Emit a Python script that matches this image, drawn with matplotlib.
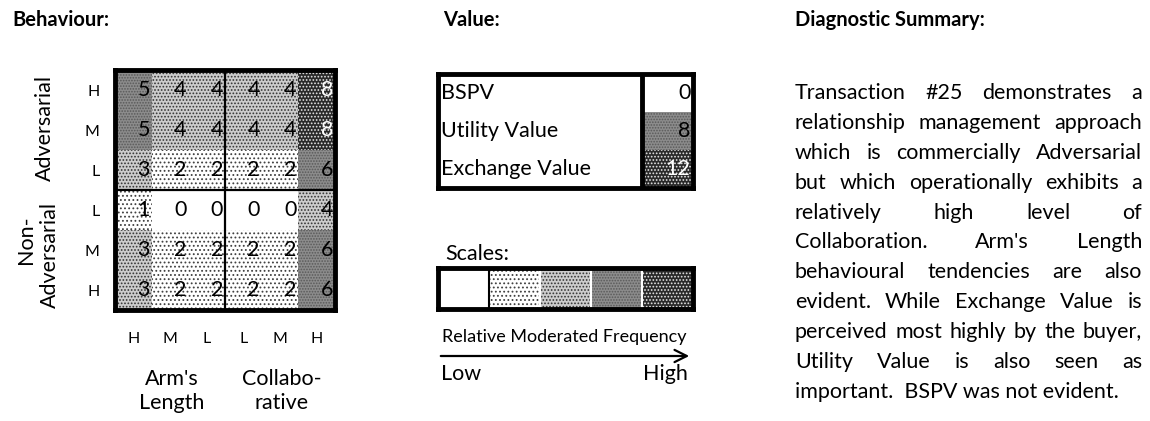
import math
import matplotlib
matplotlib.use("Agg")
import matplotlib.pyplot as plt
from matplotlib.patches import Rectangle
import numpy as np

plt.rcParams['font.family'] = ['Lato', 'DejaVu Sans']
plt.rcParams['hatch.linewidth'] = 0.8

W, H = 1150, 421

# behaviour matrix (rows top to bottom, columns left to right)
row_labels = ["H", "M", "L", "L", "M", "H"]
col_labels = ["H", "M", "L", "L", "M", "H"]
col_groups = ["Arm's\nLength", "Collabo-\nrative"]
behaviour = [
    [5, 4, 4, 4, 4, 8],
    [5, 4, 4, 4, 4, 8],
    [3, 2, 2, 2, 2, 6],
    [1, 0, 0, 0, 0, 4],
    [3, 2, 2, 2, 2, 6],
    [3, 2, 2, 2, 2, 6],
]

value_names = ["BSPV", "Utility Value", "Exchange Value"]
value_scores = [0, 8, 12]

summary_lines = [
    "Transaction #25 demonstrates a",
    "relationship management approach",
    "which is commercially Adversarial",
    "but which operationally exhibits a",
    "relatively high level of",
    "Collaboration.  Arm's Length",
    "behavioural tendencies are also",
    "evident.  While Exchange Value is",
    "perceived most highly by the buyer,",
    "Utility Value is also seen as",
    "important.  BSPV was not evident.",
]

# five shading steps, white -> darkest
SHADES = [
    dict(face="white", hatch=None, ink="white"),
    dict(face="white", hatch="....", ink="0.25"),
    dict(face="0.80", hatch=".....", ink="0.2"),
    dict(face="0.55", hatch="......", ink="0.35"),
    dict(face="0.16", hatch=".....", ink="0.9"),
]


def level(v, vmax):
    return min(4, math.ceil(4 * v / vmax))


def px_axes(x0, y0, x1, y1):
    return fig.add_axes([x0 / W, 1 - y1 / H, (x1 - x0) / W, (y1 - y0) / H])


def cell(ax, x, y, lev, w=1, h=1):
    s = SHADES[lev]
    ax.add_patch(Rectangle((x, y), w, h, facecolor=s["face"], edgecolor=s["ink"],
                           hatch=s["hatch"], linewidth=0))


def frame(ax, lw=3.5):
    for sp in ax.spines.values():
        sp.set_linewidth(lw)
        sp.set_color("black")


fig = plt.figure(figsize=(W / 100, H / 100), dpi=100)

# overlay for free text, pixel coordinates
ov = fig.add_axes([0, 0, 1, 1])
ov.set_xlim(0, W)
ov.set_ylim(H, 0)
ov.axis("off")

FS = 15.5

# ---- behaviour heat map
hm = px_axes(115, 70, 335, 310)
vmax = max(max(r) for r in behaviour)
for i, row in enumerate(behaviour):
    for j, v in enumerate(row):
        lev = level(v, vmax)
        cell(hm, j, i, lev)
        hm.text(j + 0.95, i + 0.5, str(v), ha="right", va="center", fontsize=15.5,
                color="white" if lev == 4 else "black")
hm.set_xlim(0, 6)
hm.set_ylim(6, 0)
hm.axvline(3, color="black", lw=1.6)
hm.axhline(3, color="black", lw=1.6)
frame(hm)
hm.set_xticks(np.arange(6) + 0.5, col_labels, fontsize=11.5)
hm.set_yticks(np.arange(6) + 0.5, row_labels, fontsize=11.5)
hm.tick_params(length=0)
hm.tick_params(axis="x", pad=16)
hm.tick_params(axis="y", pad=11)

ov.text(45, 128, "Adversarial", rotation=90, ha="center", va="center", fontsize=FS)
ov.text(26, 240, "Non-", rotation=90, ha="center", va="center", fontsize=FS)
ov.text(50, 255, "Adversarial", rotation=90, ha="center", va="center", fontsize=FS)
ov.text(172, 391, col_groups[0], ha="center", va="center", fontsize=FS, linespacing=1.3)
ov.text(282, 391, col_groups[1], ha="center", va="center", fontsize=FS, linespacing=1.3)

# ---- value box
va = px_axes(438, 74, 693, 188)
vm = max(value_scores)
for i, (name, s) in enumerate(zip(value_names, value_scores)):
    lev = level(s, vm)
    cell(va, 4, i, lev)
    va.text(0.06, i + 0.5, name, ha="left", va="center", fontsize=FS)
    va.text(4.95, i + 0.5, str(s), ha="right", va="center", fontsize=FS,
            color="white" if lev == 4 else "black")
va.set_xlim(0, 5)
va.set_ylim(3, 0)
va.axvline(4, color="black", lw=3.5)
frame(va)
va.set_xticks([])
va.set_yticks([])

# ---- scale bar
ov.text(445, 254, "Scales:", ha="left", va="center", fontsize=FS)
sc = px_axes(438, 268, 693, 309)
for k in range(len(SHADES)):
    cell(sc, k, 0, k)
sc.set_xlim(0, 5)
sc.set_ylim(1, 0)
sc.axvline(1, color="black", lw=1.5)
for k in range(2, 5):
    sc.axvline(k, color="white", lw=1.5)
frame(sc)
sc.set_xticks([])
sc.set_yticks([])

ov.text(564, 337, "Relative Moderated Frequency", ha="center", va="center", fontsize=13)
ov.annotate("", xy=(692, 356), xytext=(438, 356),
            arrowprops=dict(arrowstyle="->", lw=1.6, mutation_scale=22, color="black"))
ov.text(441, 374, "Low", ha="left", va="center", fontsize=FS)
ov.text(688, 374, "High", ha="right", va="center", fontsize=FS)

# ---- titles
for x, t in [(12, "Behaviour:"), (443, "Value:"), (795, "Diagnostic Summary:")]:
    ov.text(x, 20, t, ha="left", va="center", fontsize=14.5, fontweight="bold")

# ---- justified summary paragraph
x0, x1, y0, dy = 795, 1142, 93, 29.9
fig.canvas.draw()
r = fig.canvas.get_renderer()
for k, line in enumerate(summary_lines):
    y = y0 + k * dy
    words = line.split()
    if k == len(summary_lines) - 1:
        ov.text(x0, y, line, ha="left", va="center", fontsize=FS)
        continue
    arts = [ov.text(0, y, w, ha="left", va="center", fontsize=FS) for w in words]
    widths = [a.get_window_extent(r).width for a in arts]
    gap = (x1 - x0 - sum(widths)) / max(1, len(words) - 1)
    x = x0
    for a, wd in zip(arts, widths):
        a.set_x(x)
        x += wd + gap

fig.savefig("out.png", dpi=100)
